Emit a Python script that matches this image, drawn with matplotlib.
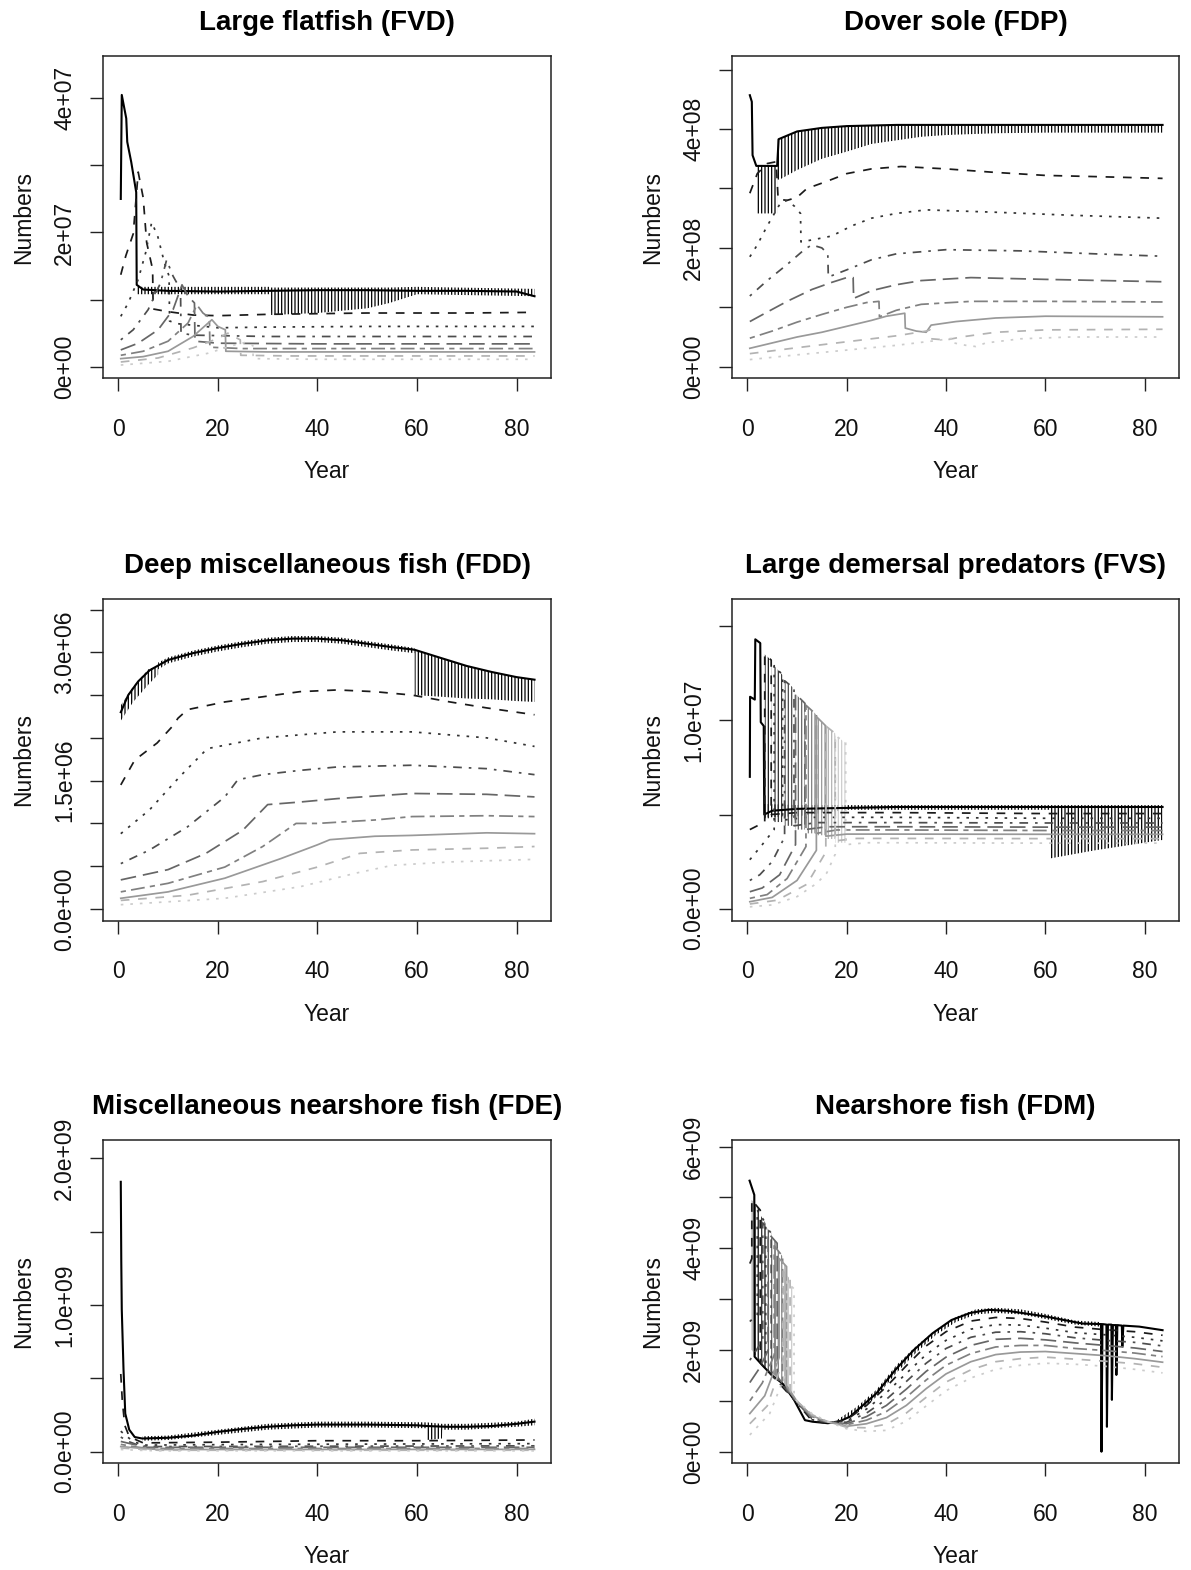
import numpy as np
import matplotlib
matplotlib.use("Agg")
import matplotlib.pyplot as plt

plt.rcParams['font.family'] = ['Liberation Sans', 'DejaVu Sans']
plt.rcParams['hatch.linewidth'] = 0.9

# grey ramp and R line types (lty 1..6) for the 9 age classes
age_colors = ['#000000', '#1a1a1a', '#333333', '#4d4d4d', '#666666',
              '#808080', '#999999', '#b3b3b3', '#cccccc']
age_styles = ['-', (0, (5, 5)), (0, (1.5, 4)), (0, (1.5, 4, 5, 4)),
              (0, (9, 4)), (0, (3, 3, 8, 3)), '-', (0, (5, 5)), (0, (1.5, 4))]

# ---------------- Large flatfish (FVD), numbers in millions ----------------
fvd_yr = [
    [0.5, 0.7, 1.6, 1.8, 2.6, 3.6, 3.7, 5, 10, 20, 30, 40, 50, 60, 70, 80, 83.6],
    [0.5, 1.5, 3.0, 4.0, 5.0, 5.7, 6.9, 7.0, 10, 15, 20, 30, 40, 50, 60, 70, 83.6],
    [0.5, 2, 4, 5.5, 6.7, 7.9, 9.3, 10.2, 10.3, 12, 20, 30, 50, 83.6],
    [0.5, 3, 6, 8.5, 9.7, 11, 12.5, 12.6, 15, 30, 83.6],
    [0.5, 4, 8, 11, 12.8, 14, 15.3, 15.4, 20, 40, 83.6],
    [0.5, 5, 10, 14, 15.8, 17, 18.3, 18.4, 25, 83.6],
    [0.5, 5, 10, 15, 18.8, 20, 21.5, 21.6, 30, 83.6],
    [0.5, 8, 15, 20, 22, 23.5, 24.5, 24.6, 35, 83.6],
    [0.5, 10, 18, 24, 25.5, 27, 27.1, 40, 83.6],
]
fvd_n = [
    [25.0, 40.5, 37.0, 33.5, 30.5, 26.0, 12.2, 11.5, 11.3, 11.2, 11.3, 11.4, 11.4, 11.3, 11.3, 11.2, 10.5],
    [13.7, 16.5, 19.8, 29.0, 25.2, 18.5, 14.5, 8.6, 8.2, 7.7, 7.6, 7.8, 7.9, 8.0, 8.0, 8.0, 8.1],
    [7.5, 9.5, 13.0, 17.0, 21.5, 19.5, 15.4, 13.5, 6.8, 6.4, 5.8, 5.9, 6.0, 6.0],
    [4.0, 5.5, 8.5, 12.5, 15.9, 13.5, 11.5, 5.0, 4.7, 4.5, 4.5],
    [2.5, 3.5, 5.5, 8.5, 12.2, 10.5, 9.5, 3.8, 3.5, 3.4, 3.4],
    [1.7, 2.3, 3.8, 6.5, 9.2, 8.0, 7.3, 2.9, 2.7, 2.7],
    [1.2, 1.5, 2.3, 4.5, 7.0, 6.0, 5.5, 2.3, 2.2, 2.2],
    [0.7, 1.3, 2.8, 4.2, 5.0, 4.4, 4.0, 1.7, 1.6, 1.6],
    [0.25, 0.8, 2.0, 3.4, 3.6, 3.2, 1.2, 1.1, 1.1],
]
fvd_band_age = [0]
fvd_band_yr = [[3.7, 30.6, 30.7, 40, 50, 54.5, 60, 83.6]]
fvd_band_lo = [[10.8, 10.8, 7.7, 8.0, 8.7, 9.5, 10.8, 10.5]]
fvd_band_hi = [[11.9, 11.9, 11.8, 11.8, 11.8, 11.8, 11.9, 11.6]]

# ---------------- Dover sole (FDP), numbers in 1e8 ----------------
fdp_yr = [
    [0.5, 0.9, 1.05, 1.8, 6.0, 6.3, 10, 15, 20, 30, 83.6],
    [0.5, 2, 4, 5.8, 6.2, 8, 10, 12, 16, 20, 25, 31, 40, 50, 60, 70, 83.6],
    [0.5, 2, 4, 6.7, 8, 9.5, 10.7, 10.8, 14, 17, 21, 25, 30, 36, 50, 65, 83.6],
    [0.5, 4, 8, 11.6, 13, 15, 16.2, 16.3, 20, 25, 30, 40, 55, 70, 83.6],
    [0.5, 4, 8, 13, 17, 20, 21.3, 21.4, 25, 30, 35, 45, 60, 83.6],
    [0.5, 5, 10, 15, 20, 24, 26.5, 26.6, 30, 35, 45, 60, 83.6],
    [0.5, 5, 10, 15, 20, 25, 28, 31.7, 31.8, 34, 36, 37, 42, 50, 60, 83.6],
    [0.5, 10, 20, 30, 36, 36.8, 37, 40, 43, 50, 60, 83.6],
    [0.5, 10, 20, 30, 38, 41.5, 41.6, 44, 46, 48, 55, 65, 83.6],
]
fdp_n = [
    [4.57, 4.46, 3.56, 3.38, 3.38, 3.83, 3.96, 4.02, 4.05, 4.07, 4.07],
    [2.92, 3.25, 3.42, 3.45, 2.82, 2.8, 2.85, 3.0, 3.12, 3.25, 3.33, 3.37, 3.33, 3.27, 3.22, 3.2, 3.17],
    [1.85, 2.05, 2.37, 2.76, 2.8, 2.7, 2.58, 2.1, 2.15, 2.2, 2.37, 2.5, 2.58, 2.64, 2.6, 2.55, 2.5],
    [1.19, 1.45, 1.72, 1.98, 2.05, 2.0, 1.9, 1.51, 1.63, 1.8, 1.9, 1.97, 1.95, 1.9, 1.86],
    [0.76, 0.92, 1.1, 1.3, 1.42, 1.5, 1.5, 1.15, 1.28, 1.38, 1.45, 1.5, 1.47, 1.43],
    [0.48, 0.6, 0.75, 0.88, 1.0, 1.08, 1.1, 0.84, 0.95, 1.05, 1.1, 1.1, 1.09],
    [0.31, 0.4, 0.5, 0.58, 0.68, 0.78, 0.85, 0.9, 0.65, 0.6, 0.58, 0.7, 0.76, 0.82, 0.85, 0.84],
    [0.22, 0.32, 0.42, 0.52, 0.6, 0.62, 0.47, 0.45, 0.5, 0.58, 0.62, 0.63],
    [0.12, 0.2, 0.28, 0.36, 0.44, 0.48, 0.4, 0.36, 0.34, 0.4, 0.47, 0.5, 0.5],
]
fdp_band_age = [0]
fdp_band_yr = [[1.9, 6.0, 6.01, 6.5, 10, 15, 20, 25, 30, 35, 40, 50, 60, 83.6]]
fdp_band_lo = [[2.58, 2.58, 3.15, 3.15, 3.31, 3.5, 3.62, 3.75, 3.81, 3.87, 3.9, 3.93, 3.94, 3.94]]
fdp_band_hi = [[3.38, 3.38, 3.83, 3.83, 3.96, 4.02, 4.05, 4.06, 4.07, 4.07, 4.07, 4.07, 4.07, 4.07]]

# ---------------- Deep miscellaneous fish (FDD), numbers in millions ----------------
fdd_yr = [
    [0.5, 2, 4, 6.3, 10, 15, 20, 25, 30, 35, 40, 45, 50, 55, 59.5, 65, 70, 75, 80, 83.6],
    [0.5, 3.3, 7.8, 10.8, 12, 13.9, 21.4, 29, 36.5, 44, 51.5, 59, 66.6, 74, 83.6],
    [0.5, 6.3, 12.4, 17.3, 18.4, 29, 44, 59, 74, 83.6],
    [0.5, 6.3, 13.9, 21.4, 24, 29, 36.5, 44, 59, 74, 83.6],
    [0.5, 10, 17.6, 25, 30, 36.5, 44, 59, 74, 83.6],
    [0.5, 10, 21.4, 29, 35.7, 40, 51.5, 59, 74, 83.6],
    [0.5, 10, 21.4, 32.7, 40, 42.5, 51.5, 59, 74, 83.6],
    [0.5, 13.9, 29, 40, 48.5, 59, 74, 83.6],
    [0.5, 21.4, 36.5, 47.8, 55, 66.6, 83.6],
]
fdd_n = [
    [2.3, 2.5, 2.66, 2.79, 2.91, 2.99, 3.05, 3.1, 3.14, 3.16, 3.16, 3.14, 3.1, 3.06, 3.03, 2.93, 2.84, 2.77, 2.71, 2.68],
    [1.45, 1.74, 1.94, 2.13, 2.23, 2.33, 2.42, 2.48, 2.54, 2.56, 2.54, 2.50, 2.42, 2.35, 2.27],
    [0.88, 1.16, 1.55, 1.84, 1.88, 2.0, 2.07, 2.07, 2.0, 1.9],
    [0.53, 0.69, 0.96, 1.31, 1.51, 1.57, 1.62, 1.66, 1.68, 1.64, 1.57],
    [0.34, 0.46, 0.65, 0.92, 1.22, 1.25, 1.29, 1.35, 1.34, 1.31],
    [0.2, 0.3, 0.49, 0.73, 1.0, 1.0, 1.04, 1.08, 1.09, 1.08],
    [0.125, 0.2, 0.36, 0.59, 0.75, 0.81, 0.85, 0.86, 0.89, 0.88],
    [0.1, 0.16, 0.32, 0.49, 0.65, 0.69, 0.71, 0.73],
    [0.05, 0.125, 0.26, 0.42, 0.51, 0.55, 0.58],
]
fdd_band_age = [0, 0, 0]
fdd_band_yr = [[0.5, 3, 6, 8],
               [8, 10, 15, 20, 25, 30, 35, 40, 45, 50, 55, 59.5],
               [59.5, 65, 70, 75, 80, 83.6]]
fdd_band_lo = [[2.2, 2.42, 2.62, 2.74],
               [2.8, 2.87, 2.95, 3.01, 3.06, 3.1, 3.12, 3.12, 3.1, 3.06, 3.02, 2.99],
               [2.50, 2.48, 2.46, 2.45, 2.43, 2.42]]
fdd_band_hi = [[2.38, 2.6, 2.8, 2.84],
               [2.88, 2.94, 3.02, 3.08, 3.13, 3.17, 3.19, 3.19, 3.17, 3.13, 3.09, 3.05],
               [3.03, 2.93, 2.84, 2.77, 2.71, 2.68]]

# ---------------- Large demersal predators (FVS), numbers in millions ----------------
fvs_yr = [
    [0.5, 0.55, 1.5, 1.6, 2.6, 2.7, 3.3, 3.4, 5, 10, 20, 30, 40, 50, 60, 70, 83.6],
    [0.5, 2, 3.5, 3.5, 4.8, 4.8, 10, 30, 60, 83.6],
    [0.5, 3, 5.4, 5.4, 7.1, 7.1, 12, 30, 60, 83.6],
    [0.5, 2.5, 5, 7.5, 7.5, 9.4, 9.4, 14, 30, 60, 83.6],
    [0.5, 3, 6.5, 9.7, 9.7, 11.6, 11.6, 16, 30, 60, 83.6],
    [0.5, 4, 8, 11.8, 11.8, 13.9, 13.9, 18, 30, 60, 83.6],
    [0.5, 5, 10, 13.9, 13.9, 15.8, 15.8, 20, 30, 60, 83.6],
    [0.5, 6, 12, 15.8, 15.8, 17.7, 17.7, 22, 30, 60, 83.6],
    [0.5, 5, 10, 14, 16, 17.7, 17.7, 19.8, 19.8, 24, 30, 60, 83.6],
]
fvs_n = [
    [7.0, 11.25, 11.1, 14.3, 14.1, 9.9, 9.7, 5.0, 5.2, 5.3, 5.35, 5.4, 5.4, 5.4, 5.4, 5.4, 5.4],
    [4.2, 4.4, 4.6, 13.5, 13.2, 5.0, 5.1, 5.1, 5.05, 5.05],
    [2.6, 3.4, 4.2, 12.9, 12.4, 4.7, 4.85, 4.85, 4.8, 4.8],
    [1.5, 1.8, 2.5, 3.8, 12.1, 11.7, 4.4, 4.57, 4.57, 4.55, 4.55],
    [0.9, 1.1, 1.8, 3.4, 11.4, 10.9, 4.2, 4.35, 4.35, 4.33, 4.33],
    [0.55, 0.75, 1.6, 3.3, 10.8, 10.3, 4.0, 4.18, 4.18, 4.15, 4.15],
    [0.37, 0.6, 1.5, 3.1, 10.2, 9.7, 3.85, 3.96, 3.96, 3.95, 3.95],
    [0.25, 0.45, 1.3, 3.0, 9.7, 9.3, 3.6, 3.73, 3.73, 3.72, 3.72],
    [0.1, 0.2, 0.64, 1.35, 1.9, 2.9, 9.2, 8.8, 3.4, 3.5, 3.5, 3.48, 3.48],
]
fvs_band_age = [0, 1, 2, 3, 4, 5, 6, 7, 8]
fvs_band_yr = [[3.4, 10, 20, 60.9, 61, 70, 83.6], [3.5, 4.8], [5.4, 7.1], [7.5, 9.4],
               [9.7, 11.6], [11.8, 13.9], [13.9, 15.8], [15.8, 17.7], [17.7, 19.8]]
fvs_band_lo = [[4.85, 4.9, 5.25, 5.25, 2.67, 3.1, 3.65], [4.8, 4.8], [4.6, 4.6], [4.4, 4.4],
               [4.2, 4.2], [4.0, 4.0], [3.9, 3.9], [3.7, 3.7], [3.5, 3.5]]
fvs_band_hi = [[5.56, 5.5, 5.5, 5.5, 5.5, 5.5, 5.5], [13.5, 13.2], [12.9, 12.4], [12.1, 11.7],
               [11.4, 10.9], [10.8, 10.3], [10.2, 9.7], [9.7, 9.3], [9.2, 8.8]]

# ---------------- Miscellaneous nearshore fish (FDE), numbers in 1e9 ----------------
fde_yr = [
    [0.5, 0.6, 0.7, 1.05, 1.4, 2.2, 3.3, 4.8, 10, 15, 20, 25, 30, 35, 40, 50, 60, 62, 66, 70, 75, 80, 83.6],
    [0.5, 0.8, 1.3, 2, 3, 5, 20, 40, 60, 83.6],
    [0.5, 1.5, 3, 5, 30, 83.6],
    [0.5, 2, 4, 6, 83.6],
    [0.5, 3, 6, 83.6],
    [0.5, 3, 6, 83.6],
    [0.5, 4, 8, 83.6],
    [0.5, 4, 8, 83.6],
    [0.5, 4, 8, 83.6],
]
fde_n = [
    [1.84, 1.3, 0.97, 0.56, 0.26, 0.15, 0.10, 0.09, 0.095, 0.11, 0.135, 0.155, 0.17, 0.18, 0.185, 0.185, 0.18, 0.175, 0.17, 0.17, 0.175, 0.19, 0.205],
    [0.53, 0.35, 0.18, 0.12, 0.09, 0.06, 0.065, 0.075, 0.075, 0.08],
    [0.14, 0.11, 0.07, 0.045, 0.05, 0.055],
    [0.10, 0.07, 0.045, 0.035, 0.04],
    [0.07, 0.05, 0.03, 0.03],
    [0.05, 0.035, 0.022, 0.022],
    [0.035, 0.025, 0.015, 0.016],
    [0.025, 0.018, 0.01, 0.01],
    [0.015, 0.01, 0.006, 0.006],
]
fde_band_age = [0]
fde_band_yr = [[4.8, 10, 20, 30, 40, 50, 61.9, 62, 65, 65.1, 70, 80, 83.6]]
fde_band_lo = [[0.075, 0.08, 0.115, 0.15, 0.165, 0.165, 0.16, 0.08, 0.09, 0.15, 0.15, 0.17, 0.18]]
fde_band_hi = [[0.105, 0.11, 0.15, 0.19, 0.205, 0.205, 0.2, 0.2, 0.19, 0.19, 0.19, 0.205, 0.225]]

# ---------------- Nearshore fish (FDM), numbers in 1e9 ----------------
fdm_late_yr = [10, 13, 16, 20, 24, 28, 32, 36, 40, 45, 50, 55, 60, 66, 72, 78, 83.6]
fdm_yr = [
    [0.45, 1.4, 1.45, 3.3, 5, 7.1, 9.4, 11.6, 13.1, 16.2, 18.4, 20.7, 22.2, 26, 29.8, 33.5, 37.3,
     41.1, 44.9, 48.6, 52.4, 60, 67.5, 71.2, 71.3, 71.5, 72.3, 72.4, 72.6, 73.3, 73.4, 73.6,
     74.2, 74.3, 74.5, 75.4, 75.5, 75.7, 78.9, 83.6],
    [0.5, 0.9, 0.9, 2.6, 2.6] + fdm_late_yr,
    [0.5, 2.0, 2.0, 3.7, 3.7] + fdm_late_yr,
    [0.5, 1.5, 3.1, 3.1, 4.8, 4.8] + fdm_late_yr,
    [0.5, 2.5, 4.2, 4.2, 6.0, 6.0] + fdm_late_yr,
    [0.5, 3, 5.4, 5.4, 7.1, 7.1] + fdm_late_yr,
    [0.5, 3.5, 6.4, 6.4, 7.9, 7.9] + fdm_late_yr,
    [0.5, 4, 7.2, 7.2, 8.6, 8.6] + fdm_late_yr,
    [0.5, 4.5, 8.0, 8.0, 9.4, 9.4] + fdm_late_yr,
]
fdm_n = [
    [5.33, 5.05, 1.87, 1.67, 1.5, 1.34, 1.02, 0.62, 0.59, 0.56, 0.59, 0.69, 0.82, 1.15, 1.61, 2.0, 2.33,
     2.59, 2.73, 2.79, 2.77, 2.66, 2.52, 2.51, 0.0, 2.51, 2.50, 0.49, 2.50, 2.50, 1.02, 2.49,
     2.49, 1.51, 2.49, 2.48, 2.07, 2.48, 2.46, 2.39],
    [3.7, 3.8, 4.95, 4.75, 1.75, .96, .61, .56, .63, .91, 1.28, 1.69, 2.08, 2.36, 2.57, 2.64, 2.62, 2.55, 2.45, 2.40, 2.36, 2.29],
    [2.56, 2.7, 4.75, 4.49, 1.65, .96, .63, .57, .60, .84, 1.16, 1.54, 1.91, 2.19, 2.41, 2.50, 2.49, 2.43, 2.34, 2.30, 2.25, 2.18],
    [1.8, 1.95, 2.2, 4.5, 4.3, 1.58, .97, .65, .58, .58, .76, 1.03, 1.38, 1.74, 2.03, 2.25, 2.35, 2.36, 2.32, 2.24, 2.19, 2.15, 2.08],
    [1.36, 1.65, 2.0, 4.3, 4.1, 1.48, .98, .67, .58, .55, .69, .91, 1.23, 1.58, 1.86, 2.09, 2.21, 2.23, 2.20, 2.14, 2.09, 2.04, 1.97],
    [1.0, 1.35, 1.9, 4.05, 3.84, 1.38, .98, .69, .59, .53, .62, .79, 1.07, 1.41, 1.70, 1.93, 2.06, 2.09, 2.09, 2.03, 1.99, 1.94, 1.87],
    [0.75, 1.1, 1.85, 3.8, 3.64, 1.3, .99, .71, .59, .50, .55, .67, .91, 1.24, 1.53, 1.77, 1.91, 1.96, 1.97, 1.93, 1.89, 1.83, 1.76],
    [0.55, 0.9, 1.8, 3.55, 3.4, 1.2, .99, .73, .60, .48, .47, .54, .76, 1.07, 1.37, 1.61, 1.77, 1.83, 1.86, 1.82, 1.78, 1.73, 1.66],
    [0.33, 0.75, 1.6, 3.35, 3.2, 1.08, 1.0, .75, .60, .45, .40, .42, .60, .90, 1.20, 1.45, 1.62, 1.70, 1.74, 1.72, 1.68, 1.62, 1.55],
]
fdm_band_age = [0, 1, 2, 3, 4, 5, 6, 7, 8]
fdm_band_yr = [[18, 22, 26, 30, 34, 38, 42, 46, 50, 55, 60, 66, 71],
               [0.9, 2.6], [2.0, 3.7], [3.1, 4.8], [4.2, 6.0], [5.4, 7.1], [6.4, 7.9], [7.2, 8.6], [8.0, 9.4]]
fdm_band_lo = [[0.55, 0.75, 1.08, 1.55, 1.95, 2.3, 2.55, 2.7, 2.73, 2.7, 2.61, 2.5, 2.46],
               [2.0, 1.75], [1.8, 1.65], [1.68, 1.58], [1.58, 1.48], [1.5, 1.38], [1.4, 1.3], [1.32, 1.2], [1.2, 1.08]]
fdm_band_hi = [[0.62, 0.88, 1.22, 1.7, 2.08, 2.4, 2.65, 2.8, 2.83, 2.8, 2.71, 2.58, 2.55],
               [4.95, 4.75], [4.75, 4.49], [4.5, 4.3], [4.3, 4.1], [4.05, 3.84], [3.8, 3.64], [3.55, 3.4], [3.35, 3.2]]


fig = plt.figure(figsize=(11.91, 15.70), dpi=100)
W, H = 1191.0, 1570.0
col_x = [(103.1, 551.2), (732.2, 1179.2)]
row_y = [(56.0, 378.3), (599.0, 920.7), (1140.0, 1463.3)]


def panel(row, col, title, yrs, vals, unit, band_age, band_yr, band_lo, band_hi,
          yticks, ylabels, ylim):
    x0, x1 = col_x[col]
    y0, y1 = row_y[row]
    ax = fig.add_axes([x0 / W, 1 - y1 / H, (x1 - x0) / W, (y1 - y0) / H])
    wpx, hpx = x1 - x0, y1 - y0
    for k in range(len(yrs)):
        ax.plot(yrs[k], np.array(vals[k]) * unit, color=age_colors[k],
                linestyle=age_styles[k], linewidth=1.5 if k == 0 else 1.25)
        for b in range(len(band_age)):
            if band_age[b] == k:
                ax.fill_between(band_yr[b], np.array(band_lo[b]) * unit,
                                np.array(band_hi[b]) * unit, facecolor='none',
                                edgecolor=age_colors[k], linewidth=0, hatch='|||||')
    ax.set_xlim(-3.05, 86.95)
    ax.set_ylim(ylim[0] * unit, ylim[1] * unit)
    ax.set_xticks([0, 20, 40, 60, 80])
    ax.set_yticks(np.array(yticks) * unit)
    ax.set_yticklabels(ylabels, rotation=90, va='center', ha='right')
    ax.tick_params(direction='out', length=9.4, width=1.0, labelsize=16.5,
                   color='#222222', labelcolor='#111111')
    ax.tick_params(axis='x', pad=19)
    ax.tick_params(axis='y', pad=10)
    for s in ax.spines.values():
        s.set_linewidth(1.1)
        s.set_color('#222222')
    ax.text(0.5, 1 + 26 / hpx, title, transform=ax.transAxes, ha='center',
            va='baseline', fontsize=20, fontweight='bold')
    ax.text(0.5, -100 / hpx, 'Year', transform=ax.transAxes, ha='center',
            va='baseline', fontsize=16.5, color='#111111')
    ax.text(-73 / wpx, 0.5, 'Numbers', transform=ax.transAxes, rotation=90,
            rotation_mode='anchor', ha='center', va='baseline', fontsize=16.5,
            color='#111111')
    return ax


panel(0, 0, 'Large flatfish (FVD)', fvd_yr, fvd_n, 1e6,
      fvd_band_age, fvd_band_yr, fvd_band_lo, fvd_band_hi,
      [0, 10, 20, 30, 40], ['0e+00', '', '2e+07', '', '4e+07'], (-1.73, 46.3))
panel(0, 1, 'Dover sole (FDP)', fdp_yr, fdp_n, 1e8,
      fdp_band_age, fdp_band_yr, fdp_band_lo, fdp_band_hi,
      [0, 1, 2, 3, 4, 5], ['0e+00', '', '2e+08', '', '4e+08', ''], (-0.195, 5.23))
panel(1, 0, 'Deep miscellaneous fish (FDD)', fdd_yr, fdd_n, 1e6,
      fdd_band_age, fdd_band_yr, fdd_band_lo, fdd_band_hi,
      [0, 0.5, 1.0, 1.5, 2.0, 2.5, 3.0, 3.5],
      ['0.0e+00', '', '', '1.5e+06', '', '', '3.0e+06', ''], (-0.137, 3.623))
panel(1, 1, 'Large demersal predators (FVS)', fvs_yr, fvs_n, 1e6,
      fvs_band_age, fvs_band_yr, fvs_band_lo, fvs_band_hi,
      [0, 5, 10, 15], ['0.0e+00', '', '1.0e+07', ''], (-0.637, 16.44))
panel(2, 0, 'Miscellaneous nearshore fish (FDE)', fde_yr, fde_n, 1e9,
      fde_band_age, fde_band_yr, fde_band_lo, fde_band_hi,
      [0, 0.5, 1.0, 1.5, 2.0], ['0.0e+00', '', '1.0e+09', '', '2.0e+09'], (-0.079, 2.125))
panel(2, 1, 'Nearshore fish (FDM)', fdm_yr, fdm_n, 1e9,
      fdm_band_age, fdm_band_yr, fdm_band_lo, fdm_band_hi,
      [0, 1, 2, 3, 4, 5, 6], ['0e+00', '', '2e+09', '', '4e+09', '', '6e+09'], (-0.228, 6.13))

fig.savefig('out.png', dpi=100)
